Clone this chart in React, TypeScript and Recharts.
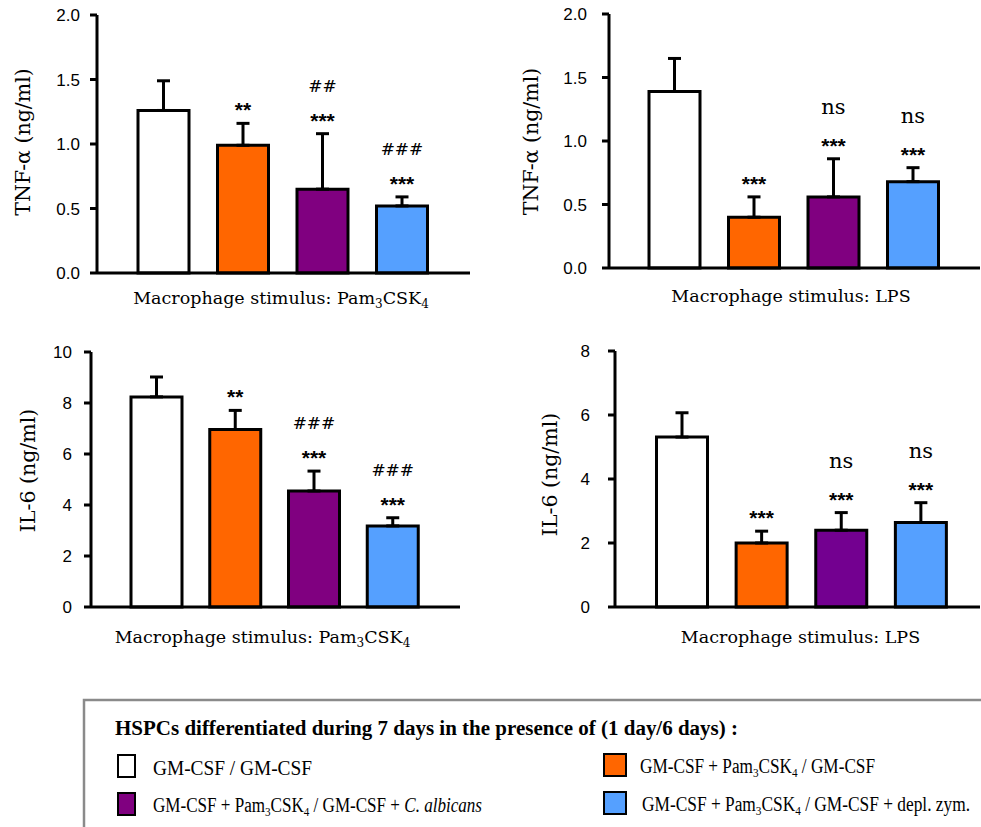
import React from "react"
import { BarChart, Bar, XAxis, YAxis, ErrorBar, Cell, LabelList, Label } from "recharts"

// groups of HSPCs (1 day / 6 days)
const groups = ["GM-CSF / GM-CSF", "GM-CSF + Pam3CSK4 / GM-CSF", "GM-CSF + Pam3CSK4 / GM-CSF + C. albicans", "GM-CSF + Pam3CSK4 / GM-CSF + depl. zym."]
const barColors = ["#ffffff", "#ff6600", "#800080", "#55a0ff"]
const barColorsIl6Lps = ["#ffffff", "#ff6600", "#730090", "#55a0ff"]

// TNF-a, stimulus Pam3CSK4
const tnfPam = [1.26, 0.99, 0.65, 0.52]
const tnfPamErr = [0.23, 0.17, 0.43, 0.07]
const tnfPamStars = ["", "**", "***", "***"]
const tnfPamTop = ["", "", "##", "###"]

// TNF-a, stimulus LPS
const tnfLps = [1.39, 0.4, 0.56, 0.68]
const tnfLpsErr = [0.26, 0.16, 0.3, 0.11]
const tnfLpsStars = ["", "***", "***", "***"]
const tnfLpsTop = ["", "", "ns", "ns"]

// IL-6, stimulus Pam3CSK4
const il6Pam = [8.24, 6.96, 4.55, 3.18]
const il6PamErr = [0.78, 0.75, 0.78, 0.32]
const il6PamStars = ["", "**", "***", "***"]
const il6PamTop = ["", "", "###", "###"]

// IL-6, stimulus LPS
const il6Lps = [5.31, 2.0, 2.4, 2.64]
const il6LpsErr = [0.76, 0.37, 0.55, 0.62]
const il6LpsStars = ["", "***", "***", "***"]
const il6LpsTop = ["", "", "ns", "ns"]

const tnfTicks = [0, 0.5, 1, 1.5, 2]
const il6PamTicks = [0, 2, 4, 6, 8, 10]
const il6LpsTicks = [0, 2, 4, 6, 8]

const SERIF = "'DejaVu Serif', serif"
const SANS = "'Liberation Sans', Arial, sans-serif"
const LEGEND_FONT = "'Liberation Serif', 'Times New Roman', serif"

function XTitle({ viewBox, stim, dx, dy }: any) {
  const { x, y, width } = viewBox
  return (
    <text x={x + width / 2 + dx} y={y + dy} textAnchor="middle" fontFamily={SERIF} fontSize={17.5} fill="#000">
      Macrophage stimulus: {stim === "pam" ? (
        <>
          Pam<tspan fontSize={12} baselineShift={-4}>3</tspan>CSK<tspan fontSize={12} baselineShift={-4}>4</tspan>
        </>
      ) : "LPS"}
    </text>
  )
}

function YTitle({ viewBox, text, bx, dy }: any) {
  const { x, y, height } = viewBox
  const cy = y + height / 2 + dy
  const cx = x + bx
  return (
    <text x={cx} y={cy} transform={`rotate(-90 ${cx} ${cy})`} textAnchor="middle" fontFamily={SERIF} fontSize={20.5} fill="#000">
      {text}
    </text>
  )
}

function sigLabel(values: number[], errs: number[], stars: string[], tops: string[]) {
  return (props: any) => {
    const vb = props.viewBox || props
    const { x, y, width, height } = vb
    const i = props.index
    if (i == null || (!stars[i] && !tops[i])) return null
    const perUnit = height / values[i]
    const errTop = y - errs[i] * perUnit
    const cx = x + width / 2
    return (
      <g>
        {stars[i] && (
          <text x={cx} y={errTop - 6} textAnchor="middle" fontFamily={SANS} fontWeight="bold" fontSize={21} fill="#000">
            {stars[i]}
          </text>
        )}
        {tops[i] && (
          <text x={cx} y={errTop - (tops[i] === "ns" ? 45 : 42)} textAnchor="middle" fontFamily={SERIF} fontSize={tops[i] === "ns" ? 21 : 17} fill="#000">
            {tops[i]}
          </text>
        )}
      </g>
    )
  }
}

interface PanelProps {
  values: number[]
  errs: number[]
  stars: string[]
  tops: string[]
  colors: string[]
  ticks: number[]
  digits: number
  yTitle: string
  stim: string
  left: number
  top: number
  width: number
  height: number
  margin: { top: number; right: number; left: number; bottom: number }
  yWidth: number
  tickMargin: number
  padL: number
  padR: number
  yb: number
  ydy: number
  xdx: number
  xdy: number
}

function Panel(p: PanelProps) {
  const data = groups.map((g, i) => ({ group: g, value: p.values[i], err: [0, p.errs[i]] }))
  return (
    <div style={{ position: "absolute", left: p.left, top: p.top }}>
      <BarChart width={p.width} height={p.height} data={data} margin={p.margin} barSize={51}>
        <XAxis
          dataKey="group"
          tick={false}
          tickLine={false}
          axisLine={{ stroke: "#000", strokeWidth: 3 }}
          padding={{ left: p.padL, right: p.padR }}
          height={40}
        >
          <Label content={(props: any) => <XTitle {...props} stim={p.stim} dx={p.xdx} dy={p.xdy} />} />
        </XAxis>
        <YAxis
          domain={[0, p.ticks[p.ticks.length - 1]]}
          ticks={p.ticks}
          interval={0}
          tickFormatter={(v: number) => v.toFixed(p.digits)}
          tickSize={7}
          tickMargin={p.tickMargin}
          tickLine={{ stroke: "#000", strokeWidth: 3 }}
          axisLine={{ stroke: "#000", strokeWidth: 3 }}
          tick={{ fill: "#000", fontFamily: SANS, fontSize: 17 }}
          width={p.yWidth}
        >
          <Label content={(props: any) => <YTitle {...props} text={p.yTitle} bx={p.yb} dy={p.ydy} />} />
        </YAxis>
        <Bar dataKey="value" stroke="#000" strokeWidth={3} isAnimationActive={false}>
          {data.map((d, i) => (
            <Cell key={d.group} fill={p.colors[i]} />
          ))}
          <ErrorBar dataKey="err" width={6.5} stroke="#000" strokeWidth={3} isAnimationActive={false} />
          <LabelList dataKey="value" content={sigLabel(p.values, p.errs, p.stars, p.tops)} />
        </Bar>
      </BarChart>
    </div>
  )
}

function LegendBox() {
  return (
    <svg width={981} height={140} style={{ position: "absolute", left: 0, top: 690 }}>
      <rect x={84} y={10} width={920} height={160} fill="#fff" stroke="#8a8a8a" strokeWidth={2.5} />
      <text x={115} y={45} fontFamily={LEGEND_FONT} fontWeight="bold" fontSize={20} textLength={623} lengthAdjust="spacingAndGlyphs" fill="#000">
        HSPCs differentiated during 7 days in the presence of (1 day/6 days) :
      </text>
      <rect x={118} y={65} width={17} height={22} fill={barColors[0]} stroke="#000" strokeWidth={2} />
      <text x={153} y={85} fontFamily={LEGEND_FONT} fontSize={20} textLength={159} lengthAdjust="spacingAndGlyphs" fill="#000">
        {groups[0]}
      </text>
      <rect x={118} y={103} width={17} height={22} fill={barColors[2]} stroke="#000" strokeWidth={2} />
      <text x={153} y={122} fontFamily={LEGEND_FONT} fontSize={20} textLength={329} lengthAdjust="spacingAndGlyphs" fill="#000">
        GM-CSF + Pam<tspan fontSize={13} baselineShift={-4}>3</tspan>CSK<tspan fontSize={13} baselineShift={-4}>4</tspan> / GM-CSF + <tspan fontStyle="italic">C. albicans</tspan>
      </text>
      <rect x={604} y={64} width={22} height={22} fill={barColors[1]} stroke="#000" strokeWidth={2} />
      <text x={640} y={83} fontFamily={LEGEND_FONT} fontSize={20} textLength={235} lengthAdjust="spacingAndGlyphs" fill="#000">
        GM-CSF + Pam<tspan fontSize={13} baselineShift={-4}>3</tspan>CSK<tspan fontSize={13} baselineShift={-4}>4</tspan> / GM-CSF
      </text>
      <rect x={604} y={102} width={22} height={22} fill={barColors[3]} stroke="#000" strokeWidth={2} />
      <text x={642} y={121} fontFamily={LEGEND_FONT} fontSize={20} textLength={328} lengthAdjust="spacingAndGlyphs" fill="#000">
        GM-CSF + Pam<tspan fontSize={13} baselineShift={-4}>3</tspan>CSK<tspan fontSize={13} baselineShift={-4}>4</tspan> / GM-CSF + depl. zym.
      </text>
    </svg>
  )
}

export default function App() {
  return (
    <div style={{ position: "absolute", left: 0, top: 0, width: 981, height: 827, background: "#fff", overflow: "hidden" }}>
      <Panel
        values={tnfPam} errs={tnfPamErr} stars={tnfPamStars} tops={tnfPamTop} colors={barColors}
        ticks={tnfTicks} digits={1} yTitle="TNF-α (ng/ml)" stim="pam"
        left={0} top={0} width={490} height={320}
        margin={{ top: 15, right: 20, left: 0, bottom: 7 }} yWidth={97} tickMargin={10}
        padL={27} padR={28} yb={29.5} ydy={-2} xdx={-2.5} xdy={30.5}
      />
      <Panel
        values={tnfLps} errs={tnfLpsErr} stars={tnfLpsStars} tops={tnfLpsTop} colors={barColors}
        ticks={tnfTicks} digits={1} yTitle="TNF-α (ng/ml)" stim="lps"
        left={490} top={0} width={491} height={320}
        margin={{ top: 14, right: 1, left: 0, bottom: 12 }} yWidth={119} tickMargin={15}
        padL={26} padR={27} yb={48} ydy={0.5} xdx={-3.5} xdy={34.4}
      />
      <Panel
        values={il6Pam} errs={il6PamErr} stars={il6PamStars} tops={il6PamTop} colors={barColors}
        ticks={il6PamTicks} digits={0} yTitle="IL-6 (ng/ml)" stim="pam"
        left={0} top={330} width={490} height={330}
        margin={{ top: 22, right: 30, left: 0, bottom: 13 }} yWidth={91} tickMargin={12}
        padL={26} padR={28} yb={34.7} ydy={-9} xdx={-13} xdy={36}
      />
      <Panel
        values={il6Lps} errs={il6LpsErr} stars={il6LpsStars} tops={il6LpsTop} colors={barColorsIl6Lps}
        ticks={il6LpsTicks} digits={0} yTitle="IL-6 (ng/ml)" stim="lps"
        left={490} top={330} width={491} height={330}
        margin={{ top: 21, right: 1, left: 0, bottom: 13 }} yWidth={125} tickMargin={18}
        padL={27.5} padR={19} yb={66.7} ydy={-4.5} xdx={3} xdy={36}
      />
      <LegendBox />
    </div>
  )
}
